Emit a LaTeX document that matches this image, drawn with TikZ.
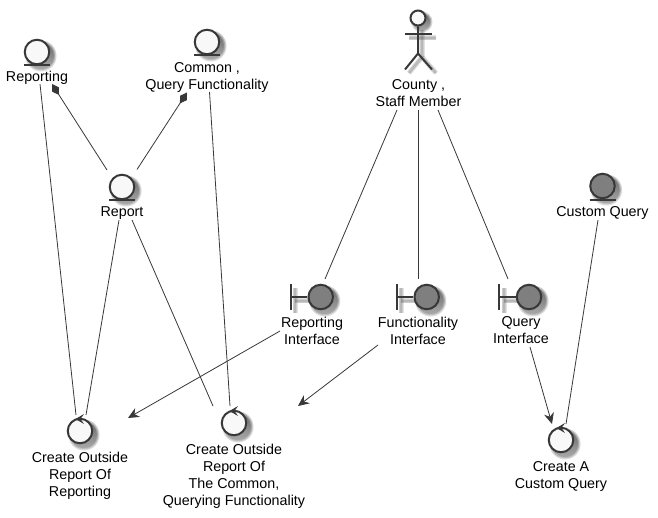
\documentclass[tikz,border=0pt]{standalone}
\usepackage{fontspec}
\setmainfont{Liberation Sans}
\usetikzlibrary{arrows.meta}
\definecolor{ink}{HTML}{383838}
\definecolor{pale}{HTML}{F8F8F8}
\definecolor{mid}{HTML}{7F7F7F}
\definecolor{shade}{HTML}{555555}
\tikzset{
  x=1pt,y=-1pt,
  lbl/.style={inner sep=0pt,align=center,text=black,yshift=-1.4pt,font=\fontsize{14.3}{17}\selectfont,
    execute at begin node=\vphantom{Qg},execute at end node=\vphantom{Qg}},
  disc/.style={circle,draw=ink,line width=2pt,minimum size=24.5pt,inner sep=0pt,fill=pale},
  darkdisc/.style={disc,fill=mid},
  head/.style={circle,draw=ink,line width=2pt,minimum size=15pt,inner sep=0pt,fill=pale},
  thickln/.style={draw=ink,line width=2pt},
  conn/.style={draw=ink,line width=0.8pt},
  arrowconn/.style={conn,-{Stealth[length=11pt,width=10pt,inset=3.5pt,fill=ink]}},
  comp/.style={conn,{Diamond[length=13pt,width=8pt,fill=ink]}-},
  softline/.style={draw=shade,line width=#1,opacity=0.16},
}
\newcommand\softdisc[3]{%
  \fill[shade,opacity=0.15] (#1+4,#2+4) circle (#3+2.5);
  \fill[shade,opacity=0.22] (#1+4,#2+4) circle (#3+1.2);
  \fill[shade,opacity=0.40] (#1+4,#2+4) circle (#3);
}
\newcommand\softbar[4]{%
  \foreach \w in {5,3.5,2}{\draw[softline=\w pt] (#1+4,#2+4) -- (#3+4,#4+4);}
}
\newcommand\turnhead[1]{%
  \fill[ink] ([shift={(-4.5,-12)}]#1.center) -- ([shift={(4,-17)}]#1.center) -- ([shift={(0.5,-12)}]#1.center) -- ([shift={(4,-7)}]#1.center) -- cycle;
}
\begin{document}
\begin{tikzpicture}
\useasboundingbox (0,0) rectangle (658,518);
\fill[white] (0,0) rectangle (658,518);
% shadows
\softdisc{37}{52}{13}
\softdisc{207}{42}{13}
\softdisc{122}{187}{13}
\softdisc{602.5}{186}{13}
\softdisc{320.7}{297}{13}
\softdisc{426.7}{297}{13}
\softdisc{529}{297}{13}
\softdisc{80}{431}{13}
\softdisc{234}{423}{13}
\softdisc{561}{440}{13}
\softdisc{418}{18}{8}
\softbar{418}{26}{418}{53}
\softbar{405}{34}{432}{34}
\softbar{418}{53}{405}{69}
\softbar{418}{53}{432}{69}
\softbar{291}{284}{291}{309}
\softbar{291}{297}{308}{297}
\softbar{397}{284}{397}{309}
\softbar{397}{297}{414}{297}
\softbar{500}{284}{500}{309}
\softbar{500}{297}{516}{297}
% entities
\node[disc] (eReporting) at (37,52) {};
\node[disc] (eCommon) at (207,42) {};
\node[disc] (eReport) at (122,187) {};
\node[darkdisc] (eCustom) at (602.5,186) {};
\node[head] (actor) at (418,18) {};
\draw[thickln] (eReporting.center) ++(-13,13) -- ++(26,0);
\draw[thickln] (eCommon.center) ++(-13,13) -- ++(26,0);
\draw[thickln] (eReport.center) ++(-13,13) -- ++(26,0);
\draw[thickln] (eCustom.center) ++(-13,14) -- ++(26,0);
% actor figure
\draw[thickln] (actor.south) -- ++(0,27) -- ++(-13,16);
\draw[thickln] (actor.south) ++(0,27) -- ++(14,16);
\draw[thickln] (actor.center) ++(-13,16) -- ++(27,0);
% boundaries
\node[darkdisc] (bR) at (320.7,297) {};
\node[darkdisc] (bF) at (426.7,297) {};
\node[darkdisc] (bQ) at (529,297) {};
\foreach \b in {bR,bF,bQ}{
  \draw[thickln] ([shift={(-29.7,-13)}]\b.center) -- ++(0,26);
  \draw[thickln] ([shift={(-29.7,0)}]\b.center) -- (\b.west);
}
% use cases
\node[disc] (uA) at (80,431) {};
\node[disc] (uB) at (234,423) {};
\node[disc] (uC) at (561,440) {};
\turnhead{uA}\turnhead{uB}\turnhead{uC}
% labels
\node[lbl] (lReporting) at (37,76) {Reporting};
\node[lbl] (lCommon) at (207,76) {Common ,\\Query Functionality};
\node[lbl] (lReport) at (122,212) {Report};
\node[lbl] (lCounty) at (418.5,93.5) {County ,\\Staff Member};
\node[lbl] (lCustom) at (602.5,212) {Custom Query};
\node[lbl] (lbR) at (312,330.5) {Reporting\\Interface};
\node[lbl] (lbF) at (418,330.5) {Functionality\\Interface};
\node[lbl] (lbQ) at (521,330.5) {Query\\Interface};
\node[lbl] (luA) at (80,474.5) {Create Outside\\Report Of\\Reporting};
\node[lbl] (luB) at (234,475) {Create Outside\\Report Of\\The Common,\\Querying Functionality};
\node[lbl] (luC) at (561,475) {Create A\\Custom Query};
% connectors
\draw[conn] ([shift={(3,32)}]eReporting.center) -- ([shift={(-4,-16)}]uA.center);
\draw[comp] ([shift={(15,32)}]eReporting.center) -- ([shift={(-15,-17)}]eReport.center);
\draw[comp] ([shift={(-20,50.5)}]eCommon.center) -- ([shift={(15,-17.5)}]eReport.center);
\draw[conn] ([shift={(2.5,50)}]eCommon.center) -- ([shift={(-4,-17)}]uB.center);
\draw[conn] ([shift={(-3,33)}]eReport.center) -- ([shift={(6,-16)}]uA.center);
\draw[conn] ([shift={(10,33)}]eReport.center) -- ([shift={(-21,-17)}]uB.center);
\draw[conn] ([shift={(-21,92)}]actor.center) -- ([shift={(4.3,-18)}]bR.center);
\draw[conn] ([shift={(0,92)}]actor.center) -- ([shift={(-8.7,-18)}]bF.center);
\draw[conn] ([shift={(20,92)}]actor.center) -- ([shift={(-21,-18)}]bQ.center);
\draw[conn] ([shift={(-4.5,34)}]eCustom.center) -- ([shift={(5,-16)}]uC.center);
\draw[arrowconn] ([shift={(-40.7,34)}]bR.center) -- ([shift={(48,-13)}]uA.center);
\draw[arrowconn] ([shift={(-48.7,48)}]bF.center) -- ([shift={(64,-17)}]uB.center);
\draw[arrowconn] ([shift={(1,50)}]bQ.center) -- ([shift={(-9,-16)}]uC.center);
\end{tikzpicture}
\end{document}
